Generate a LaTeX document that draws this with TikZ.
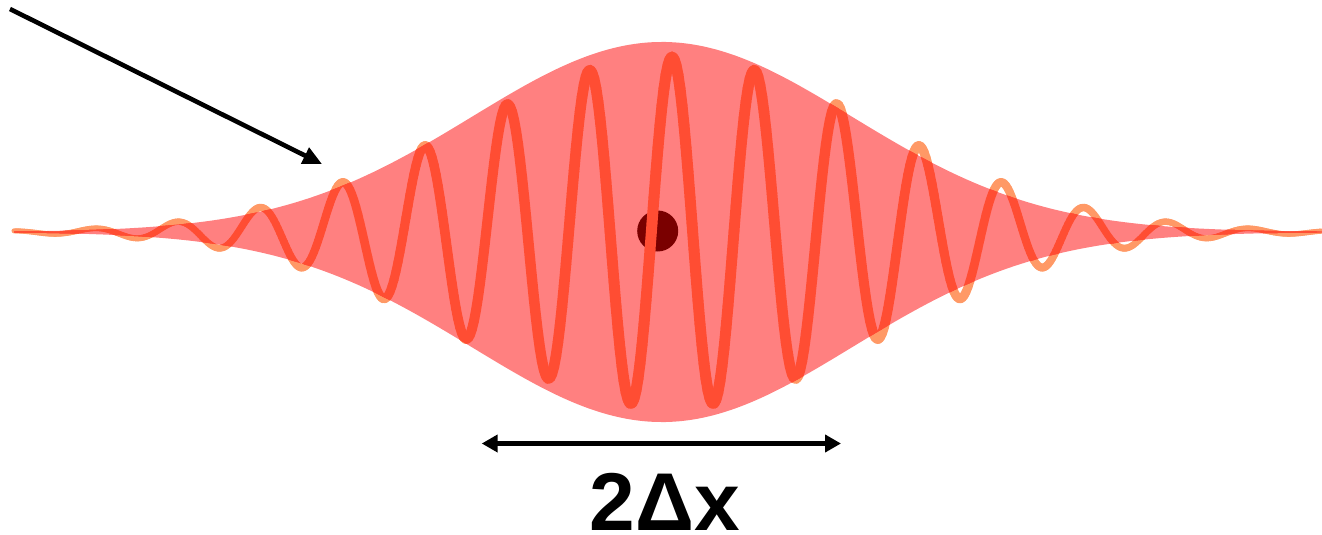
\documentclass[tikz,border=0pt]{standalone}
\usepackage{fontspec}
\setmainfont{Liberation Sans}
\usetikzlibrary{arrows.meta}
\definecolor{waveorange}{RGB}{255,153,102}
\definecolor{wavered}{RGB}{255,77,51}
\definecolor{envpink}{RGB}{255,128,128}
\definecolor{dotred}{RGB}{122,0,0}
\newcommand\mywavedraw[1]{%
  \foreach \i in {0,...,653}{%
    \pgfmathsetmacro\xa{14+2*\i}%
    \pgfmathsetmacro\xb{16+2*\i}%
    \pgfmathsetmacro\ua{(\xa-672)/100}%
    \pgfmathsetmacro\ub{(\xb-672)/100}%
    \pgfmathsetmacro\sa{(\ua)*(\ua)}%
    \pgfmathsetmacro\sb{(\ub)*(\ub)}%
    \pgfmathsetmacro\ya{232-175*exp(-\sa/8.6528)*cos(360*\ua/0.826)}%
    \pgfmathsetmacro\yb{232-175*exp(-\sb/8.6528)*cos(360*\ub/0.826)}%
    \pgfmathsetmacro\lw{3.8+7.2*exp(-\sa/24.5)}%
    \draw[#1, line width=\lw pt, line cap=round] (\xa,\ya) -- (\xb,\yb);
  }%
}
\newcommand\myenvpath{plot[domain=14:1322, samples=300] (\x, {232-190*exp(-(((\x-662)/100)^2)/7.22)}) -- plot[domain=1322:14, samples=300] (\x, {232+190*exp(-(((\x-662)/100)^2)/7.22)}) -- cycle}
\tikzset{
  pointer/.style={line width=4.6pt, -{Triangle[length=19pt,width=17pt]}},
  width arrow/.style={line width=4.6pt, {Triangle[length=16pt,width=17pt]}-{Triangle[length=16pt,width=17pt]}},
  label text/.style={font=\fontsize{82}{90}\selectfont\bfseries, inner sep=0pt, anchor=base},
  centre dot/.style={circle, fill=dotred, minimum size=41pt, inner sep=0pt}
}
\begin{document}
\begin{tikzpicture}[x=1pt, y=-1pt]
\useasboundingbox (0,0) rectangle (1322,535);
% orange wave (visible outside the envelope)
\mywavedraw{waveorange}
% envelope
\fill[envpink] \myenvpath;
% centre dot
\node[centre dot] (dot) at (657.7,231) {};
% red wave inside the envelope
\begin{scope}
\clip \myenvpath;
\mywavedraw{wavered}
\end{scope}
% pointer arrow
\coordinate (ptrstart) at (10,9);
\coordinate (ptrtip) at (322,164);
\draw[pointer] (ptrstart) -- (ptrtip);
% width arrow
\coordinate (wl) at (481.7,443.5);
\coordinate (wr) at (841,443.5);
\draw[width arrow] (wl) -- (wr);
\node[label text] (lbl) at (665,530) {2Δx};
\end{tikzpicture}
\end{document}
